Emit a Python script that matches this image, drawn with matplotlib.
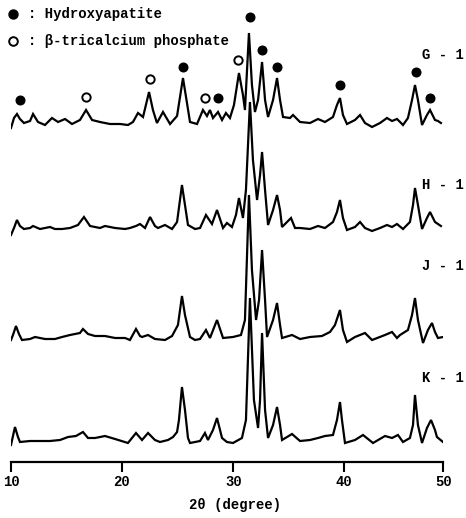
import numpy as np
import matplotlib
matplotlib.use("Agg")
import matplotlib.pyplot as plt

# ---- data: XRD traces (2theta in degrees, intensity in arbitrary units) ----
g1_trace = [(10.00,2),(10.27,12),(10.54,16),(10.81,11),(11.17,7),(11.72,9),(11.99,16),(12.44,8),
            (13.07,5),(13.70,12),(14.25,8),(14.88,11),(15.51,6),(16.23,10),(16.78,20),(17.32,10),
            (18.04,8),(18.94,6),(19.85,6),(20.56,5),(21.01,8),(21.46,17),(21.91,13),(22.45,38),
            (22.80,20),(23.16,7),(23.70,18),(24.33,6),(24.96,14),(25.49,52),(25.85,27),(26.12,8),
            (26.75,6),(27.28,20),(27.64,14),(27.91,20),(28.18,12),(28.63,18),(28.99,10),(29.34,17),
            (29.70,12),(30.06,25),(30.51,57),(30.87,35),(31.05,20),(31.41,97),(31.68,45),(31.95,18),
            (32.23,30),(32.59,68),(32.86,30),(33.13,13),(33.58,30),(33.94,52),(34.21,30),(34.48,13),
            (35.11,12),(35.38,15),(36.01,8),(36.91,7),(37.63,11),(38.26,8),(38.98,13),(39.34,25),
            (39.61,32),(39.88,15),(40.27,6),(41.08,10),(41.59,15),(42.09,7),(42.80,3),(43.61,7),
            (44.31,12),(44.82,9),(45.32,11),(45.63,8),(45.93,5),(46.43,12),(46.84,30),(47.14,45),
            (47.44,30),(47.85,5),(48.35,15),(48.66,20),(49.16,10),(49.46,9),(49.76,7)]

h1_trace = [(10.00,1),(10.27,8),(10.54,16),(10.81,10),(11.17,7),(11.72,8),(11.99,10),(12.62,7),
            (13.52,9),(13.97,7),(14.61,7),(15.33,8),(16.05,11),(16.59,19),(17.14,10),(18.04,8),
            (18.49,10),(19.40,8),(20.30,7),(20.74,8),(21.28,10),(21.64,12),(22.09,8),(22.54,19),
            (22.98,10),(23.25,8),(23.88,11),(24.51,7),(24.96,14),(25.40,51),(25.67,31),(25.94,11),
            (26.57,7),(27.02,8),(27.55,21),(28.09,12),(28.54,26),(29.08,8),(29.43,13),(29.88,9),
            (30.24,21),(30.51,38),(30.87,18),(31.14,46),(31.50,134),(31.77,76),(32.14,36),(32.41,61),
            (32.59,84),(32.86,46),(33.13,11),(33.58,26),(33.94,41),(34.21,26),(34.39,9),(35.20,18),
            (35.56,8),(36.01,8),(36.91,7),(37.63,10),(38.26,8),(38.98,14),(39.34,24),(39.61,36),
            (39.88,18),(40.27,6),(41.08,9),(41.59,14),(42.09,8),(42.80,5),(43.61,8),(44.31,11),
            (44.82,9),(45.32,12),(45.93,7),(46.63,14),(46.94,31),(47.14,48),(47.44,31),(47.85,7),
            (48.35,18),(48.66,24),(49.16,14),(49.46,12),(49.76,10)]

j1_trace = [(10.00,5),(10.18,10),(10.45,19),(10.72,11),(10.99,5),(11.72,6),(12.17,8),(13.07,6),
            (13.97,6),(14.61,8),(15.33,10),(16.23,12),(16.50,16),(16.96,11),(17.59,9),(18.49,9),
            (19.40,7),(20.30,7),(20.74,5),(21.28,16),(21.64,9),(21.82,8),(22.36,10),(22.98,6),
            (23.88,5),(24.51,9),(25.04,20),(25.40,49),(25.67,30),(26.12,8),(26.57,5),(27.02,6),
            (27.55,15),(27.91,7),(28.54,25),(29.08,7),(29.97,8),(30.69,10),(31.05,25),(31.41,150),
            (31.68,75),(32.05,25),(32.32,45),(32.59,95),(32.86,45),(33.04,8),(33.58,25),(33.94,42),
            (34.21,20),(34.39,7),(35.29,10),(36.01,6),(36.91,8),(37.99,9),(38.71,13),(39.16,20),
            (39.61,35),(39.88,15),(40.27,3),(41.08,8),(42.09,12),(42.80,5),(44.11,10),(44.82,13),
            (45.32,7),(45.63,10),(46.43,15),(46.84,30),(47.14,47),(47.44,25),(47.95,2),(48.45,15),
            (48.86,22),(49.16,13),(49.46,7),(49.97,8)]

k1_trace = [(10.00,2),(10.18,11),(10.36,20),(10.63,10),(10.81,5),(11.72,6),(12.62,6),(13.52,6),
            (14.43,7),(15.15,10),(15.87,11),(16.50,15),(16.96,9),(17.59,9),(18.49,11),(19.40,8),
            (20.56,4),(21.28,14),(21.82,7),(22.36,14),(22.98,7),(23.43,5),(24.15,7),(24.60,10),
            (24.96,15),(25.13,27),(25.40,60),(25.67,37),(25.94,9),(26.12,4),(27.02,6),(27.46,14),
            (27.73,7),(28.18,17),(28.54,29),(28.99,9),(29.43,5),(29.97,4),(30.78,9),(31.14,27),
            (31.50,149),(31.86,47),(32.23,19),(32.41,47),(32.59,114),(32.86,37),(33.13,9),(33.58,22),
            (33.94,40),(34.21,22),(34.39,7),(35.29,13),(36.01,6),(36.91,7),(37.63,9),(38.26,11),
            (38.98,12),(39.34,27),(39.61,45),(39.79,27),(40.07,4),(41.08,7),(41.89,12),(42.90,4),
            (44.11,11),(44.82,9),(45.42,12),(45.93,5),(46.63,9),(46.94,22),(47.14,52),(47.44,22),
            (47.85,4),(48.35,19),(48.76,27),(49.16,17),(49.36,10),(49.97,5)]

sample_names = ["G - 1", "H - 1", "J - 1", "K - 1"]
sample_offsets = [332, 226, 117, 15]

# phase markers on G-1 (2theta, marker level)
ha_peaks = [10.81, 25.49, 28.63, 31.50, 32.59, 33.94, 39.61, 47.24, 48.66]
ha_levels = [362, 395, 364, 445, 412, 395, 377, 390, 364]
tcp_peaks = [16.78, 22.54, 27.46, 30.42]
tcp_levels = [365, 383, 364, 402]

x_ticks = [10, 20, 30, 40, 50]
# relative drawn spacing of the original (non-uniform) axis
x_tick_draw = [0.0, 110.7, 222.3, 333.3, 432.3]

# ---- figure ----
W, H = 466, 518
fig = plt.figure(figsize=(W/100, H/100), dpi=100)
ax = fig.add_axes([11/W, 1 - 462/H, 432.3/W, 462/H])

fwd = lambda x: np.interp(x, x_ticks, x_tick_draw)
inv = lambda p: np.interp(p, x_tick_draw, x_ticks)
ax.set_xscale('function', functions=(fwd, inv))

traces = [g1_trace, h1_trace, j1_trace, k1_trace]
for tr, off in zip(traces, sample_offsets):
    xs = np.array([p[0] for p in tr])
    ys = np.array([p[1] for p in tr]) + off
    ax.plot(xs, ys, color='black', lw=1.6, solid_joinstyle='miter')

ax.plot(ha_peaks, ha_levels, 'o', color='black', ms=6.2, clip_on=False)
ax.plot(tcp_peaks, tcp_levels, 'o', mfc='white', mec='black', mew=1.4, ms=6.0, clip_on=False)

ax.set_xlim(10, 50)
ax.set_ylim(0, 462)
for s in ['top', 'right', 'left']:
    ax.spines[s].set_visible(False)
ax.spines['bottom'].set_linewidth(1.6)
ax.set_yticks([])
ax.set_xticks(x_ticks)
ax.set_xticklabels([str(t) for t in x_ticks])
ax.tick_params(axis='x', direction='out', length=7, width=1.5, pad=2)
font = dict(family='Liberation Mono', weight='bold')
for lab in ax.get_xticklabels():
    lab.set_fontfamily('Liberation Mono')
    lab.set_fontweight('bold')
    lab.set_fontsize(10)

def ftxt(x, y, s, ha='left', **kw):
    fig.text(x/W, 1 - y/H, s, va='center', ha=ha, fontsize=10, **font, **kw)

ftxt(235, 505, '2θ (degree)', ha='center')

# legend
fig.add_artist(plt.Line2D([13/W], [1-14/H], marker='o', color='black', ms=6.5, ls=''))
fig.add_artist(plt.Line2D([13/W], [1-41/H], marker='o', mfc='white', mec='black', mew=1.4, ms=6.2, ls=''))
ftxt(28, 14, ': Hydroxyapatite')
ftxt(28, 41, ': β-tricalcium phosphate')

label_y = [55, 185, 266, 378]
for name, yy in zip(sample_names, label_y):
    ftxt(422, yy, name)

fig.savefig('out.png', dpi=100)
